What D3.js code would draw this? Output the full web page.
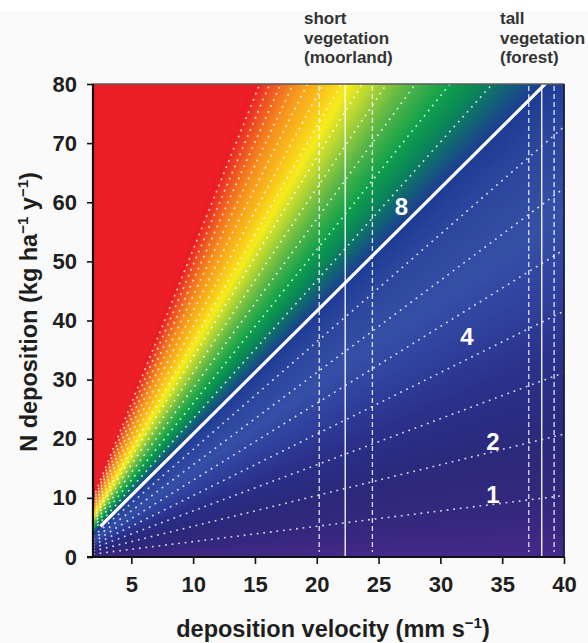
<!DOCTYPE html>
<html>
<head>
<meta charset="utf-8">
<script src="https://cdn.jsdelivr.net/npm/d3@7"></script>
<style>
  html, body { margin: 0; padding: 0; background: #fafafa; }
  svg { display: block; }
  text { font-family: "Liberation Sans", Arial, sans-serif; }
</style>
</head>
<body>
<svg id="chart" width="588" height="643"></svg>
<script>
// NH3 concentration (µg m-3) -> N deposition (kg N ha-1 y-1) per mm s-1 of deposition velocity
const K = 1e-9 * 31557600 * 10 * 14 / 17;

// axis ticks
const xTicks = [5, 10, 15, 20, 25, 30, 35, 40];
const yTicks = [0, 10, 20, 30, 40, 50, 60, 70, 80];

// isolines of constant concentration (dotted), critical level (solid)
const isoConc = [1, 2, 3, 4, 5, 6, 7, 9, 10, 11, 12, 13, 14, 15, 16, 17, 18, 19, 20];
const criticalConc = 8;
const criticalStartV = 2.5;

// labelled isolines: concentration and label position (velocity, deposition)
const labelConc = [8, 4, 2, 1];
const labelV = [26.85, 32.15, 34.25, 34.25];
const labelN = [59.2, 37.3, 19.6, 10.6];

// deposition velocity ranges for vegetation types (lower, mean, upper)
const vegNames = [["short", "vegetation", "(moorland)"], ["tall", "vegetation", "(forest)"]];
const vegLow = [20.2, 37.15];
const vegMean = [22.3, 38.2];
const vegHigh = [24.5, 39.2];

// colour ramp over concentration
const rampConc = [0, 0.8, 2, 3.2, 4.5, 5.6, 7, 8, 8.6, 9.2, 10, 11.3, 12.5, 13.6, 15.2, 16.8, 18.5, 20.3];
const rampColor = ["#44298a", "#35287e", "#2b2a7c", "#2b3089", "#30429e", "#3650a7", "#2d479e", "#1e3c94",
                   "#135f78", "#0b8459", "#10a14b", "#5fb847", "#b3d535", "#f7ec1c", "#f9b91c", "#f6901f",
                   "#f05a23", "#ec1f26"];

const W = 588, H = 643;
const plot = { left: 93, right: 564, top: 84, bottom: 557 };

const x = d3.scaleLinear().domain([1.9, 40]).range([plot.left, plot.right]);
const y = d3.scaleLinear().domain([0, 80]).range([plot.bottom, plot.top]);
const colour = d3.scaleLinear().domain(rampConc).range(rampColor).interpolate(d3.interpolateRgb).clamp(true);

const svg = d3.select("#chart");

// page background: thin white band at the very top
svg.append("rect").attr("width", W).attr("height", H).attr("fill", "#fafafa");
svg.append("rect").attr("width", W).attr("height", 11).attr("fill", "#ffffff");

svg.append("defs").append("clipPath").attr("id", "plotClip")
  .append("rect")
  .attr("x", plot.left).attr("y", plot.top)
  .attr("width", plot.right - plot.left).attr("height", plot.bottom - plot.top);

const g = svg.append("g").attr("clip-path", "url(#plotClip)");

// colour field: each band covers everything above its isoline, painted in rising order
const v0 = x.domain()[0], v1 = x.domain()[1];
const bands = d3.range(0, 21.01, 0.05);
const bandPoly = c => [
  [x(v0), y(K * c * v0)],
  [x(v1), y(K * c * v1)],
  [x(v1), y(1000)],
  [x(v0), y(1000)]
];
g.selectAll("polygon.band").data(bands).join("polygon")
  .attr("class", "band")
  .attr("points", c => bandPoly(c).map(p => p.join(",")).join(" "))
  .attr("fill", c => colour(c + 0.025));

// dotted isolines
const line = d3.line().x(d => x(d[0])).y(d => y(d[1]));
g.selectAll("path.iso").data(isoConc).join("path")
  .attr("class", "iso")
  .attr("d", c => line([[v0, K * c * v0], [v1, K * c * v1]]))
  .attr("fill", "none")
  .attr("stroke", "#ffffff")
  .attr("stroke-opacity", 0.8)
  .attr("stroke-width", 1.6)
  .attr("stroke-dasharray", "1.8 4.8");

// vegetation velocity ranges
const vegG = svg.append("g");
[vegLow, vegHigh].forEach(arr => {
  vegG.selectAll(null).data(arr).join("line")
    .attr("x1", d => x(d)).attr("x2", d => x(d))
    .attr("y1", y(80) - 6).attr("y2", y(0) - 5)
    .attr("stroke", "#ffffff").attr("stroke-opacity", 0.85)
    .attr("stroke-width", 1.3).attr("stroke-dasharray", "5 3");
});
vegG.selectAll(null).data(vegMean).join("line")
  .attr("x1", d => x(d)).attr("x2", d => x(d))
  .attr("y1", y(80)).attr("y2", y(0))
  .attr("stroke", "#ffffff").attr("stroke-width", 1.3);

// critical level line
const vTop = 80 / (K * criticalConc);
g.append("path")
  .attr("d", line([[criticalStartV, K * criticalConc * criticalStartV], [vTop + 0.3, K * criticalConc * (vTop + 0.3)]]))
  .attr("fill", "none").attr("stroke", "#ffffff").attr("stroke-width", 3.2);

// isoline labels
svg.selectAll("text.lab").data(labelConc).join("text")
  .attr("class", "lab")
  .attr("x", (d, i) => x(labelV[i]))
  .attr("y", (d, i) => y(labelN[i]))
  .attr("text-anchor", "middle")
  .attr("dominant-baseline", "central")
  .attr("fill", "#ffffff")
  .attr("font-weight", "bold")
  .attr("font-size", 24)
  .text(d => d);

// frame
svg.append("line").attr("x1", plot.left).attr("x2", plot.right).attr("y1", plot.top).attr("y2", plot.top)
  .attr("stroke", "#5a5a5a").attr("stroke-width", 1.5);
svg.append("line").attr("x1", plot.right).attr("x2", plot.right).attr("y1", plot.top).attr("y2", plot.bottom)
  .attr("stroke", "#1a1a40").attr("stroke-width", 1.8);

// axes
const xAxis = svg.append("g").attr("transform", `translate(0,${plot.bottom})`)
  .call(d3.axisBottom(x).tickValues(xTicks).tickSize(7).tickPadding(12).tickSizeOuter(0));
const yAxis = svg.append("g").attr("transform", `translate(${plot.left},0)`)
  .call(d3.axisLeft(y).tickValues(yTicks).tickSize(6).tickPadding(10).tickSizeOuter(0));
[xAxis, yAxis].forEach(a => {
  a.select(".domain").attr("stroke", "#111").attr("stroke-width", 2.2);
  a.selectAll(".tick line").attr("stroke", "#111").attr("stroke-width", 1.6);
  a.selectAll(".tick text").attr("fill", "#1e1e1e").attr("font-size", 22).attr("font-weight", "bold")
    .attr("font-family", "Liberation Sans, Arial, sans-serif");
});
xAxis.selectAll(".tick text").attr("dy", "0.71em");
xAxis.select(".domain").attr("d", `M${plot.left - 6},0H${plot.right}`);
yAxis.select(".domain").attr("d", `M0,${plot.top}V${plot.bottom}`);

// axis titles
const xt = svg.append("text")
  .attr("x", 333).attr("y", 637)
  .attr("text-anchor", "middle").attr("font-size", 23.5).attr("font-weight", "bold").attr("fill", "#1e1e1e");
xt.append("tspan").text("deposition velocity (mm s");
xt.append("tspan").attr("dy", -9).attr("font-size", 15).text("−1");
xt.append("tspan").attr("dy", 9).text(")");

const yt = svg.append("text")
  .attr("transform", "translate(37,312) rotate(-90)")
  .attr("text-anchor", "middle").attr("font-size", 23.5).attr("font-weight", "bold").attr("fill", "#1e1e1e");
yt.append("tspan").text("N deposition (kg ha");
yt.append("tspan").attr("dy", -9).attr("font-size", 15).text("−1");
yt.append("tspan").attr("dy", 9).text(" y");
yt.append("tspan").attr("dy", -9).attr("font-size", 15).text("−1");
yt.append("tspan").attr("dy", 9).text(")");

// vegetation labels
const vegX = [304, 500];
vegNames.forEach((lines, i) => {
  const t = svg.append("text").attr("x", vegX[i]).attr("y", 24)
    .attr("font-size", 17).attr("font-weight", "bold").attr("fill", "#333333");
  lines.forEach((s, j) => t.append("tspan").attr("x", vegX[i]).attr("dy", j === 0 ? 0 : 19.5).text(s));
});
</script>
</body>
</html>
